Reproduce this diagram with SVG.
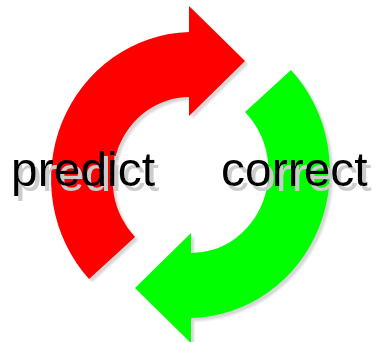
<svg xmlns="http://www.w3.org/2000/svg" width="375" height="342" viewBox="0 0 375 342">
  <style>
    .shadow { fill: #d6d6d6; }
    .label { font-family: "Liberation Sans", Arial, sans-serif; font-size: 48px; fill: #000000; }
  </style>
  <defs>
    <path id="redArrow" d="M 89 279 A 142 147 0 0 1 189 32 L 189 6 L 245 61 L 189 116 L 189 97 A 77 82 0 0 0 135 237 Z"/>
    <path id="greenArrow" d="M 291 70 A 142 147 0 0 1 191 318 L 191 343 L 135 288 L 191 233 L 191 253 A 77 82 0 0 0 245 112 Z"/>
    <filter id="soft" x="-10%" y="-10%" width="120%" height="120%">
      <feGaussianBlur stdDeviation="0.8"/>
    </filter>
    <filter id="textShadow" x="-10%" y="-20%" width="130%" height="150%">
      <feOffset in="SourceAlpha" dx="4" dy="5" result="off"/>
      <feGaussianBlur in="off" stdDeviation="0.6" result="blur"/>
      <feFlood flood-color="#cccccc" result="col"/>
      <feComposite in="col" in2="blur" operator="in" result="sh"/>
      <feMerge>
        <feMergeNode in="sh"/>
        <feMergeNode in="SourceGraphic"/>
      </feMerge>
    </filter>
  </defs>
  <rect width="375" height="342" fill="#ffffff"/>
  <g id="predict-arrow">
    <use href="#redArrow" class="shadow" transform="translate(3,3)" filter="url(#soft)"/>
    <use href="#redArrow" fill="#ff0000"/>
  </g>
  <g id="correct-arrow">
    <use href="#greenArrow" class="shadow" transform="translate(3,3)" filter="url(#soft)"/>
    <use href="#greenArrow" fill="#00ff00"/>
  </g>
  <g id="predict">
    <text class="label" x="11" y="186" filter="url(#textShadow)">predict</text>
  </g>
  <g id="correct">
    <text class="label" x="221" y="186" filter="url(#textShadow)">correct</text>
  </g>
  <g id="connectors"></g>
</svg>
